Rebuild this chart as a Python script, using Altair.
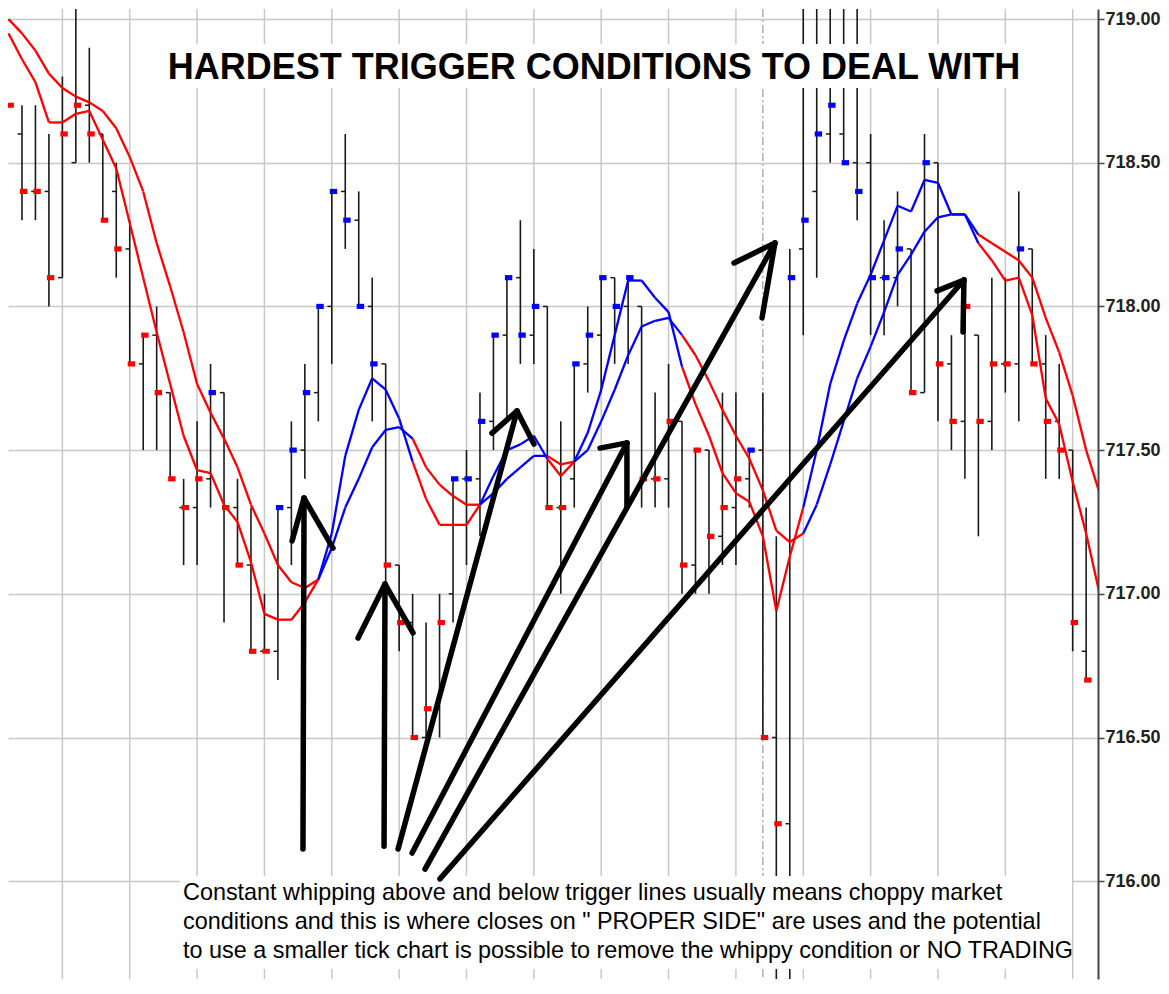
import altair as alt
import pandas as pd

TITLE = "HARDEST TRIGGER CONDITIONS TO DEAL WITH"
NOTE_LINES = [
    "Constant whipping above and below trigger lines usually means choppy market",
    "conditions and this is where closes on \" PROPER SIDE\" are uses and the potential",
    "to use a smaller tick chart is possible to remove the whippy condition or NO TRADING",
]

bar_open = [718.70, 718.60, 718.40, 718.40, 718.10, 718.50, 718.70, 718.60, 718.40, 718.20,
            717.80, 717.90, 717.70, 717.30, 717.30, 717.40, 717.70, 717.30, 717.10, 716.80,
            716.80, 717.30, 717.50, 717.70, 718.00, 718.40, 718.30, 718.00, 717.80, 717.10,
            716.90, 716.50, 716.60, 717.00, 717.40, 717.40, 717.60, 717.90, 718.10, 717.90,
            718.00, 717.30, 717.40, 717.80, 717.90, 718.10, 718.00, 718.00, 717.40, 717.40,
            717.60, 717.10, 717.50, 717.20, 717.30, 717.40, 717.50, 716.50, 716.20, 718.20,
            718.40, 718.60, 718.60, 718.50, 718.50, 718.10, 718.10, 718.20, 717.70, 718.50,
            717.80, 717.60, 717.90, 717.60, 717.80, 717.80, 718.20, 717.80, 717.60, 717.50,
            716.80]
bar_high = [718.70, 718.70, 718.70, 718.60, 718.80, 719.10, 718.90, 718.60, 718.50, 718.30,
            717.90, 718.00, 717.70, 717.40, 717.60, 717.80, 717.70, 717.40, 717.30, 717.00,
            717.30, 717.60, 717.80, 718.00, 718.40, 718.60, 718.40, 718.10, 717.80, 717.10,
            717.00, 716.90, 717.00, 717.40, 717.50, 717.70, 717.90, 718.10, 718.30, 718.20,
            718.00, 717.60, 717.80, 718.00, 718.10, 718.10, 718.10, 718.00, 717.70, 717.80,
            717.60, 717.50, 717.50, 717.70, 717.70, 717.50, 717.70, 717.20, 718.20, 719.10,
            719.10, 719.10, 719.10, 719.10, 718.60, 718.30, 718.40, 718.20, 718.60, 718.50,
            717.90, 718.00, 717.90, 718.10, 718.10, 718.40, 718.20, 717.90, 717.80, 717.50,
            717.30]
bar_low = [718.70, 718.30, 718.30, 718.00, 718.10, 718.50, 718.50, 718.30, 718.10, 717.80,
           717.50, 717.50, 717.40, 717.10, 717.10, 717.30, 716.90, 717.10, 716.80, 716.80,
           716.70, 717.10, 717.40, 717.60, 717.80, 718.20, 718.00, 717.60, 717.00, 716.80,
           716.50, 716.50, 716.50, 716.90, 717.10, 717.20, 717.50, 717.60, 717.80, 717.80,
           717.30, 717.00, 717.30, 717.70, 717.70, 717.80, 717.80, 717.30, 717.30, 717.30,
           717.00, 717.00, 717.00, 717.10, 717.10, 717.30, 716.50, 715.50, 715.50, 717.90,
           718.10, 718.50, 718.50, 718.30, 717.90, 717.90, 718.00, 717.70, 717.70, 717.60,
           717.50, 717.40, 717.20, 717.50, 717.70, 717.60, 717.80, 717.40, 717.40, 716.80,
           716.70]
bar_close = [718.70, 718.40, 718.40, 718.10, 718.60, 718.70, 718.60, 718.30, 718.20, 717.80,
             717.90, 717.70, 717.40, 717.30, 717.40, 717.70, 717.30, 717.10, 716.80, 716.80,
             717.30, 717.50, 717.70, 718.00, 718.40, 718.30, 718.00, 717.80, 717.10, 716.90,
             716.50, 716.60, 716.90, 717.40, 717.40, 717.60, 717.90, 718.10, 717.90, 718.00,
             717.30, 717.30, 717.80, 717.90, 718.10, 718.00, 718.10, 717.40, 717.40, 717.60,
             717.10, 717.50, 717.20, 717.30, 717.40, 717.50, 716.50, 716.20, 718.10, 718.30,
             718.60, 718.70, 718.50, 718.40, 718.10, 718.10, 718.20, 717.70, 718.50, 717.80,
             717.60, 718.00, 717.60, 717.80, 717.80, 718.20, 717.80, 717.60, 717.50, 716.90,
             716.70]
bar_side = ("dn dn dn dn dn dn dn dn dn dn dn dn dn dn dn up dn dn dn dn "
            "up up up up up up up up dn dn dn dn dn up up up up up up up "
            "dn dn up up up up up dn dn dn dn dn dn dn dn up dn dn up up "
            "up up up up up up up dn up dn dn dn dn dn dn up dn dn dn dn dn").split()

fast_line = [718.95, 718.86, 718.78, 718.64, 718.64, 718.67, 718.68, 718.58, 718.48, 718.29,
             718.10, 717.91, 717.73, 717.55, 717.43, 717.42, 717.31, 717.25, 717.11, 716.93,
             716.91, 716.91, 716.97, 717.05, 717.21, 717.48, 717.64, 717.75, 717.71, 717.61,
             717.46, 717.33, 717.24, 717.24, 717.24, 717.31, 717.41, 717.50, 717.52, 717.55,
             717.47, 717.41, 717.46, 717.56, 717.71, 717.90, 718.09, 718.09, 718.03, 717.98,
             717.79, 717.66, 717.55, 717.42, 717.35, 717.32, 717.20, 716.94, 717.13, 717.30,
             717.50, 717.73, 717.88, 718.01, 718.11, 718.23, 718.35, 718.33, 718.44, 718.43,
             718.32, 718.32, 718.22, 718.16, 718.09, 718.10, 717.97, 717.68, 717.59, 717.39,
             717.21, 717.00]
slow_line = [719.00, 718.95, 718.89, 718.81, 718.76, 718.73, 718.71, 718.68, 718.62, 718.52,
             718.40, 718.22, 718.07, 717.91, 717.73, 717.63, 717.54, 717.44, 717.31, 717.21,
             717.10, 717.04, 717.02, 717.05, 717.16, 717.30, 717.40, 717.51, 717.57, 717.58,
             717.54, 717.44, 717.38, 717.34, 717.31, 717.31, 717.35, 717.40, 717.44, 717.48,
             717.48, 717.45, 717.46, 717.50, 717.60, 717.71, 717.83, 717.93, 717.95, 717.96,
             717.90, 717.83, 717.74, 717.64, 717.55, 717.47, 717.36, 717.22, 717.18, 717.21,
             717.31, 717.45, 717.60, 717.75, 717.86, 717.98, 718.11, 718.18, 718.26, 718.31,
             718.32, 718.32, 718.25, 718.22, 718.19, 718.16, 718.10, 717.96, 717.84, 717.69,
             717.50, 717.35]

# hand-drawn arrows: (bar index, price) of segment ends -- shaft, then two head strokes
arrow_x1 = [21.86, 21.94, 21.94, 27.88, 27.95, 27.95, 28.92, 37.75, 37.75,
            29.96, 45.91, 45.91, 30.92, 56.90, 56.90, 32.03, 70.93, 70.93]
arrow_y1 = [716.112, 717.333, 717.333, 716.122, 717.034, 717.034, 716.112, 717.636, 717.636,
            716.098, 717.525, 717.525, 716.042, 718.221, 718.221, 716.008, 718.092, 718.092]
arrow_x2 = [21.94, 21.05, 24.09, 27.95, 25.95, 30.03, 37.75, 35.89, 39.01,
            45.91, 43.91, 45.91, 56.90, 53.86, 55.94, 70.93, 68.93, 70.86]
arrow_y2 = [717.333, 717.184, 717.159, 717.034, 716.846, 716.864, 717.636, 717.559, 717.521,
            717.525, 717.507, 717.305, 718.221, 718.151, 717.960, 718.092, 718.054, 717.911]

price_ticks = [716.0, 716.5, 717.0, 717.5, 718.0, 718.5, 719.0]
grid_bars = list(range(4, 80, 5))
session_break = [56]

W, H = 1090, 970
X_DOMAIN = [-0.037, 80.88]
Y_TOP = 719.0348
Y_DOMAIN = [Y_TOP - H / 287.4, Y_TOP]

FONT = "Liberation Sans"
side_scale = alt.Scale(domain=["dn", "up"], range=["#ff0000", "#0000ff"])

y_axis = alt.Axis(orient="right", values=price_ticks, format=".2f", title="",
                  labelFont=FONT, labelFontSize=18, labelFontWeight="bold",
                  labelColor="#222222", tickColor="#444444", tickSize=6, tickWidth=1.5,
                  domainColor="#444444", domainWidth=2, grid=True, gridColor="#c8c8c8",
                  gridWidth=1.5, labelPadding=1)


def X(field):
    return alt.X(field, type="quantitative",
                 scale=alt.Scale(domain=X_DOMAIN, nice=False, zero=False), axis=None)


def Y(field):
    return alt.Y(field, type="quantitative",
                 scale=alt.Scale(domain=Y_DOMAIN, nice=False, zero=False), axis=y_axis)


n = len(bar_close)
bars = pd.DataFrame({
    "i": list(range(n)), "o": bar_open, "h": bar_high, "l": bar_low,
    "c": bar_close, "side": bar_side,
})

seg_rows = []
for name, vals in (("fast", fast_line), ("slow", slow_line)):
    for k in range(len(vals) - 1):
        state = "up" if fast_line[k] >= slow_line[k] else "dn"
        seg_rows.append({"line": name, "i": k, "i2": k + 1,
                         "v": vals[k], "v2": vals[k + 1], "side": state})
segs = pd.DataFrame(seg_rows)

arrows = pd.DataFrame({"x1": arrow_x1, "y1": arrow_y1, "x2": arrow_x2, "y2": arrow_y2})
one = pd.DataFrame({"k": [0]})

grid_v = alt.Chart(pd.DataFrame({"i": grid_bars})).mark_rule(
    color="#c8c8c8", strokeWidth=1.5).encode(x=X("i"))

sess = alt.Chart(pd.DataFrame({"i": session_break})).mark_rule(
    color="#9a9a9a", strokeWidth=1.2, strokeDash=[8, 3, 2, 3]).encode(x=X("i"))

bar_rng = alt.Chart(bars).mark_rule(color="#1a1a1a", strokeWidth=1.6, clip=True).encode(
    x=X("i"), y=Y("l"), y2="h")

open_tick = alt.Chart(bars).transform_calculate(ix="datum.i - 0.32").mark_rule(
    color="#1a1a1a", strokeWidth=1.5, clip=True).encode(x=X("ix"), x2="i", y=Y("o"))

close_mark = alt.Chart(bars).transform_calculate(
    cx0="datum.i - 0.15", cx1="datum.i + 0.4", c0="datum.c - 0.009", c1="datum.c + 0.009"
).mark_rect(clip=True).encode(
    x=X("cx0"), x2="cx1", y=Y("c0"), y2="c1",
    color=alt.Color("side:N", scale=side_scale, legend=None))

ma = alt.Chart(segs).mark_rule(strokeWidth=2.3, clip=True).encode(
    x=X("i"), x2="i2", y=Y("v"), y2="v2",
    color=alt.Color("side:N", scale=side_scale, legend=None))

title_box = alt.Chart(one).mark_rect(color="white").encode(
    x=alt.value(157), x2=alt.value(1017), y=alt.value(35), y2=alt.value(79))

title_txt = alt.Chart(one).mark_text(
    text=TITLE, font=FONT, fontSize=36, fontWeight="bold", color="black",
    align="center", baseline="alphabetic").encode(x=alt.value(586), y=alt.value(70))

note_box = alt.Chart(one).mark_rect(color="white").encode(
    x=alt.value(172), x2=alt.value(1064), y=alt.value(867), y2=alt.value(960))

arrow_lines = alt.Chart(arrows).mark_rule(
    color="black", strokeWidth=5.5, strokeCap="round", clip=True).encode(
    x=X("x1"), x2="x2", y=Y("y1"), y2="y2")

note_txt = alt.Chart(one).mark_text(
    font=FONT, fontSize=23.4, color="black", align="left", baseline="alphabetic",
    lineHeight=29).encode(x=alt.value(175), y=alt.value(891), text=alt.value(NOTE_LINES))

chart = alt.layer(
    grid_v, sess, bar_rng, open_tick, close_mark, ma,
    title_box, title_txt, note_box, arrow_lines, note_txt
).properties(width=W, height=H, padding=0, background="white").configure_view(strokeWidth=0)

chart.save("out.html", embed_options={"renderer": "svg", "actions": False})
